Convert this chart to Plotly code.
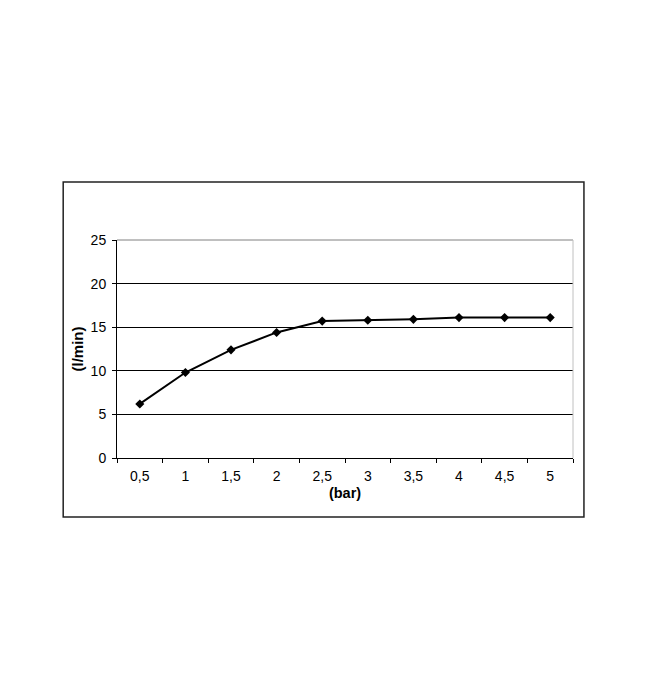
import plotly.graph_objects as go

pressure = [0.5, 1, 1.5, 2, 2.5, 3, 3.5, 4, 4.5, 5]
pressure_labels = ["0,5", "1", "1,5", "2", "2,5", "3", "3,5", "4", "4,5", "5"]
flow = [6.2, 9.8, 12.4, 14.4, 15.7, 15.8, 15.9, 16.1, 16.1, 16.1]
y_ticks = [0, 5, 10, 15, 20, 25]

FONT = "Liberation Sans, Arial, sans-serif"

fig = go.Figure()
fig.add_trace(go.Scatter(
    x=pressure, y=flow, mode="lines+markers",
    line=dict(color="black", width=2),
    marker=dict(symbol="diamond", size=7, color="black"),
    showlegend=False, hoverinfo="skip",
))

fig.update_layout(
    width=650, height=699,
    margin=dict(l=109, r=85, t=232, b=249),
    paper_bgcolor="white", plot_bgcolor="white",
    font=dict(family=FONT, size=14, color="black"),
    xaxis=dict(
        range=[0.25, 5.25], tickvals=pressure, ticktext=pressure_labels,
        ticks="", showgrid=False, zeroline=False,
        showline=True, linecolor="black", linewidth=1,
        minor=dict(tick0=0.25, dtick=0.5, ticks="outside", ticklen=4,
                   tickcolor="black", tickwidth=1, showgrid=False),
        tickfont=dict(size=14, family=FONT), ticklabelstandoff=5,
        title=dict(text="<b>(bar)</b>", font=dict(size=14.5, family=FONT), standoff=5),
    ),
    yaxis=dict(
        range=[0, 25], tickvals=y_ticks, ticks="outside", ticklen=4,
        tickcolor="black", showgrid=True, gridcolor="black", gridwidth=1,
        zeroline=False, showline=True, linecolor="black", linewidth=1,
        tickfont=dict(size=14, family=FONT), ticklabelstandoff=3,
        title=dict(text="<b>(l/min)</b>", font=dict(size=15, family=FONT), standoff=3),
    ),
    shapes=[
        dict(type="line", xref="paper", yref="paper", x0=0, x1=1, y0=1, y1=1,
             line=dict(color="#808080", width=1), layer="above"),
        dict(type="line", xref="paper", yref="paper", x0=1, x1=1, y0=0, y1=1,
             line=dict(color="#c0c0c0", width=1), layer="above"),
        dict(type="rect", xref="paper", yref="paper",
             x0=-0.118, x1=1.024, y0=-0.271, y1=1.266,
             line=dict(color="#222222", width=1.5), layer="below"),
    ],
)

fig.write_html("out.html")
